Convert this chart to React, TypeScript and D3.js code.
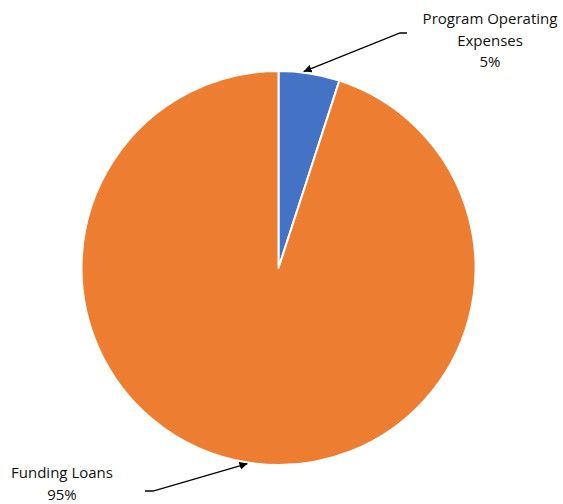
import * as d3 from "d3";

const categories = ["Program Operating Expenses", "Funding Loans"];
const values = [5, 95];
const labelLines = [["Program Operating", "Expenses", "5%"], ["Funding Loans", "95%"]];
const COLORS = ["#4472C4", "#ED7D31"];

const WIDTH = 563;
const HEIGHT = 504;
const CX = 278.5;
const CY = 268;
const R = 197;

const App = () => {
  const pie = d3.pie<number>().sort(null).value((d) => d);
  const arcs = pie(values);
  const arc = d3.arc<d3.PieArcDatum<number>>().innerRadius(0).outerRadius(R);

  // leader lines: [label end, elbow, arrow tip on the slice edge]
  const tipTop = d3.pointRadial((arcs[0].startAngle + arcs[0].endAngle) / 2 - 0.03, R + 1);
  const tipBottom = d3.pointRadial(Math.PI * 1.05, R + 1);
  const leaders = [
    [[407, 33], [400, 33], [CX + tipTop[0], CY + tipTop[1]]],
    [[145, 491], [153, 491], [CX + tipBottom[0], CY + tipBottom[1]]],
  ];
  const labelPos = [
    { x: 490, y: 24 },
    { x: 62, y: 478 },
  ];

  return (
    <svg
      width={WIDTH}
      height={HEIGHT}
      style={{ position: "absolute", left: 0, top: 0, background: "#fff" }}
    >
      <defs>
        <marker
          id="arrow"
          viewBox="0 0 10 10"
          refX="10"
          refY="5"
          markerWidth="8"
          markerHeight="8"
          markerUnits="userSpaceOnUse"
          orient="auto"
        >
          <path d="M0,0 L10,5 L0,10 z" fill="#000" />
        </marker>
      </defs>
      <g transform={`translate(${CX},${CY})`}>
        {arcs.map((a, i) => (
          <path
            key={categories[i]}
            d={arc(a) ?? ""}
            fill={COLORS[i]}
            stroke="#fff"
            strokeWidth={2}
            strokeLinejoin="round"
          />
        ))}
      </g>
      {leaders.map((pts, i) => (
        <path
          key={i}
          d={d3.line()(pts as [number, number][]) ?? ""}
          fill="none"
          stroke="#000"
          strokeWidth={1.3}
          markerEnd="url(#arrow)"
        />
      ))}
      {labelLines.map((lines, i) => (
        <text
          key={i}
          x={labelPos[i].x}
          y={labelPos[i].y}
          textAnchor="middle"
          fontFamily="'Open Sans', sans-serif"
          fontSize={15}
          fill="#111"
        >
          {lines.map((l, j) => (
            <tspan key={j} x={labelPos[i].x} dy={j === 0 ? 0 : 21.5}>
              {l}
            </tspan>
          ))}
        </text>
      ))}
    </svg>
  );
};

export default App;
